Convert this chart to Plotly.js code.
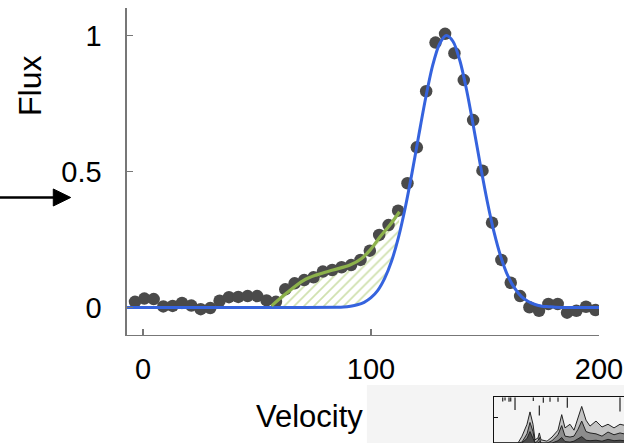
<!DOCTYPE html>
<html>
<head>
<meta charset="utf-8">
<script src="https://cdn.plot.ly/plotly-3.0.1.min.js"></script>
<style>html,body{margin:0;padding:0;background:#fff;}#chart{width:624px;height:443px;}</style>
</head>
<body>
<div id="chart"></div>
<script>
// Observed data points (velocity, flux)
const obsVelocity = [-3.5, 0.6, 4.7, 8.9, 13.0, 17.1, 21.2, 25.3, 29.5, 33.6, 37.7, 41.8, 45.9, 50.1, 54.2, 58.3, 62.4, 66.5, 70.7, 74.8, 78.9, 83.0, 87.1, 91.3, 95.4, 99.5, 103.6, 107.7, 111.9, 116.0, 120.1, 124.2, 128.3, 132.5, 136.6, 140.7, 144.8, 148.9, 153.1, 157.2, 161.3, 165.4, 169.5, 173.7, 177.8, 181.9, 186.0, 190.1, 194.3, 198.4];
const obsFlux = [0.021, 0.033, 0.031, 0.004, 0.006, 0.017, 0.007, -0.006, -0.002, 0.025, 0.038, 0.039, 0.042, 0.042, 0.026, 0.021, 0.067, 0.089, 0.101, 0.111, 0.132, 0.138, 0.148, 0.156, 0.175, 0.209, 0.267, 0.303, 0.356, 0.457, 0.589, 0.795, 0.974, 1.006, 0.935, 0.836, 0.689, 0.503, 0.312, 0.175, 0.091, 0.042, 0.001, -0.012, 0.013, 0.013, -0.019, -0.012, 0.003, -0.009];

// Blue fitted profile
const fitVelocity = [-7, 30, 60, 85, 88, 91, 94, 97, 100, 103, 106, 109, 112, 115, 118, 121, 124, 127, 130, 133, 136, 139, 142, 145, 148, 151, 154, 157, 160, 163, 166, 169, 172, 175, 178, 181, 190, 200];
const fitFlux = [0, 0, 0, 0.001, 0.002, 0.005, 0.010, 0.019, 0.036, 0.063, 0.107, 0.170, 0.256, 0.366, 0.495, 0.635, 0.771, 0.888, 0.968, 1.0, 0.978, 0.907, 0.797, 0.663, 0.522, 0.390, 0.276, 0.185, 0.117, 0.071, 0.040, 0.022, 0.011, 0.005, 0.003, 0.001, 0, 0];

// Green excess (wing) curve
const wingVelocity = [56.4, 63.0, 70.3, 76.2, 83.4, 90.8, 95.9, 99.6, 104.0, 108.3, 112.5];
const wingFlux = [0.006, 0.053, 0.099, 0.120, 0.138, 0.156, 0.180, 0.211, 0.260, 0.303, 0.352];

// Inset spectrum (bottom-right thumbnail), y 0..1
const insetX = [0, 24, 28, 33, 36, 39, 41, 44, 45.3, 47, 53, 58, 64, 67.7, 71, 76, 80, 84, 87.7, 92, 96, 102, 108, 114, 120, 126, 130];
const insetOuter = [0, 0, 0.15, 0.41, 0.68, 0.41, 0.07, 0.11, 0.22, 0.07, 0.04, 0.13, 0.28, 0.62, 0.33, 0.41, 0.28, 0.55, 0.8, 0.5, 0.37, 0.48, 0.35, 0.41, 0.33, 0.41, 0.39];
const insetMid = [0, 0, 0.02, 0.2, 0.45, 0.25, 0, 0.05, 0.12, 0, 0, 0.05, 0.18, 0.38, 0.15, 0.13, 0.15, 0.3, 0.48, 0.25, 0.22, 0.2, 0.15, 0.24, 0.18, 0.22, 0.2];
const insetInner = [0, 0, 0, 0.1, 0.25, 0.1, 0, 0, 0.03, 0, 0, 0, 0.05, 0.12, 0.03, 0.02, 0.04, 0.1, 0.14, 0.06, 0.05, 0.06, 0.04, 0.08, 0.05, 0.06, 0.05];
const absX = [8.7, 11, 15, 16.7, 21, 39.3, 45.3, 49.3, 56, 64, 73.3, 126];
const absTop = [1, 1, 1, 1, 1, 1, 0.82, 1, 1, 1, 1, 1];
const absBottom = [0.91, 0.93, 0.9, 0.91, 0.72, 0.92, 0.6, 0.88, 0.9, 0.9, 0.77, 0.69];

// Hatched region polygon: wing curve forward, fit curve backward over same span
const hatchX = [], hatchY = [];
for (let i = 0; i < wingVelocity.length; i++) { hatchX.push(wingVelocity[i]); hatchY.push(wingFlux[i]); }
for (let i = fitVelocity.length - 1; i >= 0; i--) {
  if (fitVelocity[i] >= wingVelocity[0] && fitVelocity[i] <= wingVelocity[wingVelocity.length - 1]) {
    hatchX.push(fitVelocity[i]); hatchY.push(fitFlux[i]);
  }
}
hatchX.push(wingVelocity[0]); hatchY.push(wingFlux[0]);

const absSegX = [], absSegY = [];
for (let i = 0; i < absX.length; i++) { absSegX.push(absX[i], absX[i], null); absSegY.push(absTop[i], absBottom[i], null); }

const FONT = 'Liberation Sans, Arial, Helvetica, sans-serif';
const AX = '#777777';

const traces = [
  { x: hatchX, y: hatchY, mode: 'lines', fill: 'toself', line: { width: 0, color: 'rgba(0,0,0,0)' },
    fillcolor: 'rgba(255,255,255,0)',
    fillpattern: { shape: '/', fgcolor: '#cfe0ad', bgcolor: 'rgba(255,255,255,0)', size: 7, solidity: 0.25 },
    hoverinfo: 'skip', showlegend: false, xaxis: 'x', yaxis: 'y' },
  { x: obsVelocity, y: obsFlux, mode: 'markers', marker: { size: 12.5, color: '#4a4a4a', line: { width: 0 } },
    showlegend: false, xaxis: 'x', yaxis: 'y' },
  { x: fitVelocity, y: fitFlux, mode: 'lines', line: { color: '#3563de', width: 3, shape: 'spline', smoothing: 0.8 },
    showlegend: false, xaxis: 'x', yaxis: 'y' },
  { x: wingVelocity, y: wingFlux, mode: 'lines', line: { color: '#8db24c', width: 3.2, shape: 'spline' },
    showlegend: false, xaxis: 'x', yaxis: 'y' },
  // inset
  { x: insetX, y: insetOuter, mode: 'lines', fill: 'tozeroy', fillcolor: '#c4c4c4', line: { color: '#222', width: 1 },
    showlegend: false, xaxis: 'x2', yaxis: 'y2' },
  { x: insetX, y: insetMid, mode: 'lines', fill: 'tozeroy', fillcolor: '#8c8c8c', line: { color: '#222', width: 1 },
    showlegend: false, xaxis: 'x2', yaxis: 'y2' },
  { x: insetX, y: insetInner, mode: 'lines', fill: 'tozeroy', fillcolor: '#4a4a4a', line: { color: '#222', width: 1 },
    showlegend: false, xaxis: 'x2', yaxis: 'y2' },
  { x: absSegX, y: absSegY, mode: 'lines', line: { color: '#222', width: 1.2 }, connectgaps: false,
    showlegend: false, xaxis: 'x2', yaxis: 'y2' }
];

const layout = {
  width: 624, height: 443,
  margin: { l: 0, r: 0, t: 0, b: 0, pad: 0 },
  paper_bgcolor: '#ffffff',
  plot_bgcolor: 'rgba(0,0,0,0)',
  showlegend: false,
  font: { family: FONT, color: '#000' },
  xaxis: {
    domain: [0.2035, 0.9599], range: [-7.02, 200], anchor: 'y',
    showline: true, linecolor: AX, linewidth: 1.5, showgrid: false, zeroline: false,
    ticks: 'inside', ticklen: 6, tickwidth: 1.5, tickcolor: AX,
    tickvals: [0, 100, 200], ticktext: ['0', '100', '200'],
    tickfont: { size: 29, family: FONT, color: '#000' }, ticklabelstandoff: 8
  },
  yaxis: {
    domain: [0.2438, 0.9819], range: [-0.101, 1.101], anchor: 'x',
    showline: true, linecolor: AX, linewidth: 1.5, showgrid: false, zeroline: false,
    ticks: 'inside', ticklen: 6, tickwidth: 1.5, tickcolor: AX,
    tickvals: [0, 0.5, 1], ticktext: ['0', '0.5', '1'],
    tickfont: { size: 29, family: FONT, color: '#000' }, ticklabelstandoff: 18
  },
  xaxis2: {
    domain: [0.7917, 1], range: [0, 130], anchor: 'y2', side: 'top',
    showline: true, linecolor: '#111', linewidth: 1.2, showgrid: false, zeroline: false,
    showticklabels: false, ticks: ''
  },
  yaxis2: {
    domain: [0, 0.1032], range: [0, 1], anchor: 'x2',
    showline: true, linecolor: '#111', linewidth: 1.2, showgrid: false, zeroline: false,
    showticklabels: false, ticks: 'inside', ticklen: 4, tickcolor: '#111', tickvals: [0.55]
  },
  shapes: [
    { type: 'rect', xref: 'paper', yref: 'paper', x0: 0.588, x1: 1, y0: 0, y1: 0.1309,
      fillcolor: '#f4f4f4', line: { width: 0 }, layer: 'below' },
    { type: 'line', xref: 'paper', yref: 'paper', x0: 0, x1: 0.0913, y0: 0.5542, y1: 0.5542,
      line: { color: '#000', width: 2.5 } },
    { type: 'path', xref: 'paper', yref: 'paper', path: 'M 0.1133 0.5542 L 0.0854 0.5734 L 0.0854 0.535 Z',
      fillcolor: '#000', line: { color: '#000', width: 1 } }
  ],
  annotations: [
    { text: 'Flux', xref: 'paper', yref: 'paper', x: 0.0481, y: 0.806, textangle: -90,
      xanchor: 'center', yanchor: 'middle', showarrow: false, font: { size: 32, family: FONT, color: '#000' } },
    { text: 'Velocity', xref: 'paper', yref: 'paper', x: 0.496, y: 0.059,
      xanchor: 'center', yanchor: 'middle', showarrow: false, font: { size: 31, family: FONT, color: '#000' } }
  ]
};

Plotly.newPlot('chart', traces, layout, { staticPlot: true, displayModeBar: false });
</script>
</body>
</html>
